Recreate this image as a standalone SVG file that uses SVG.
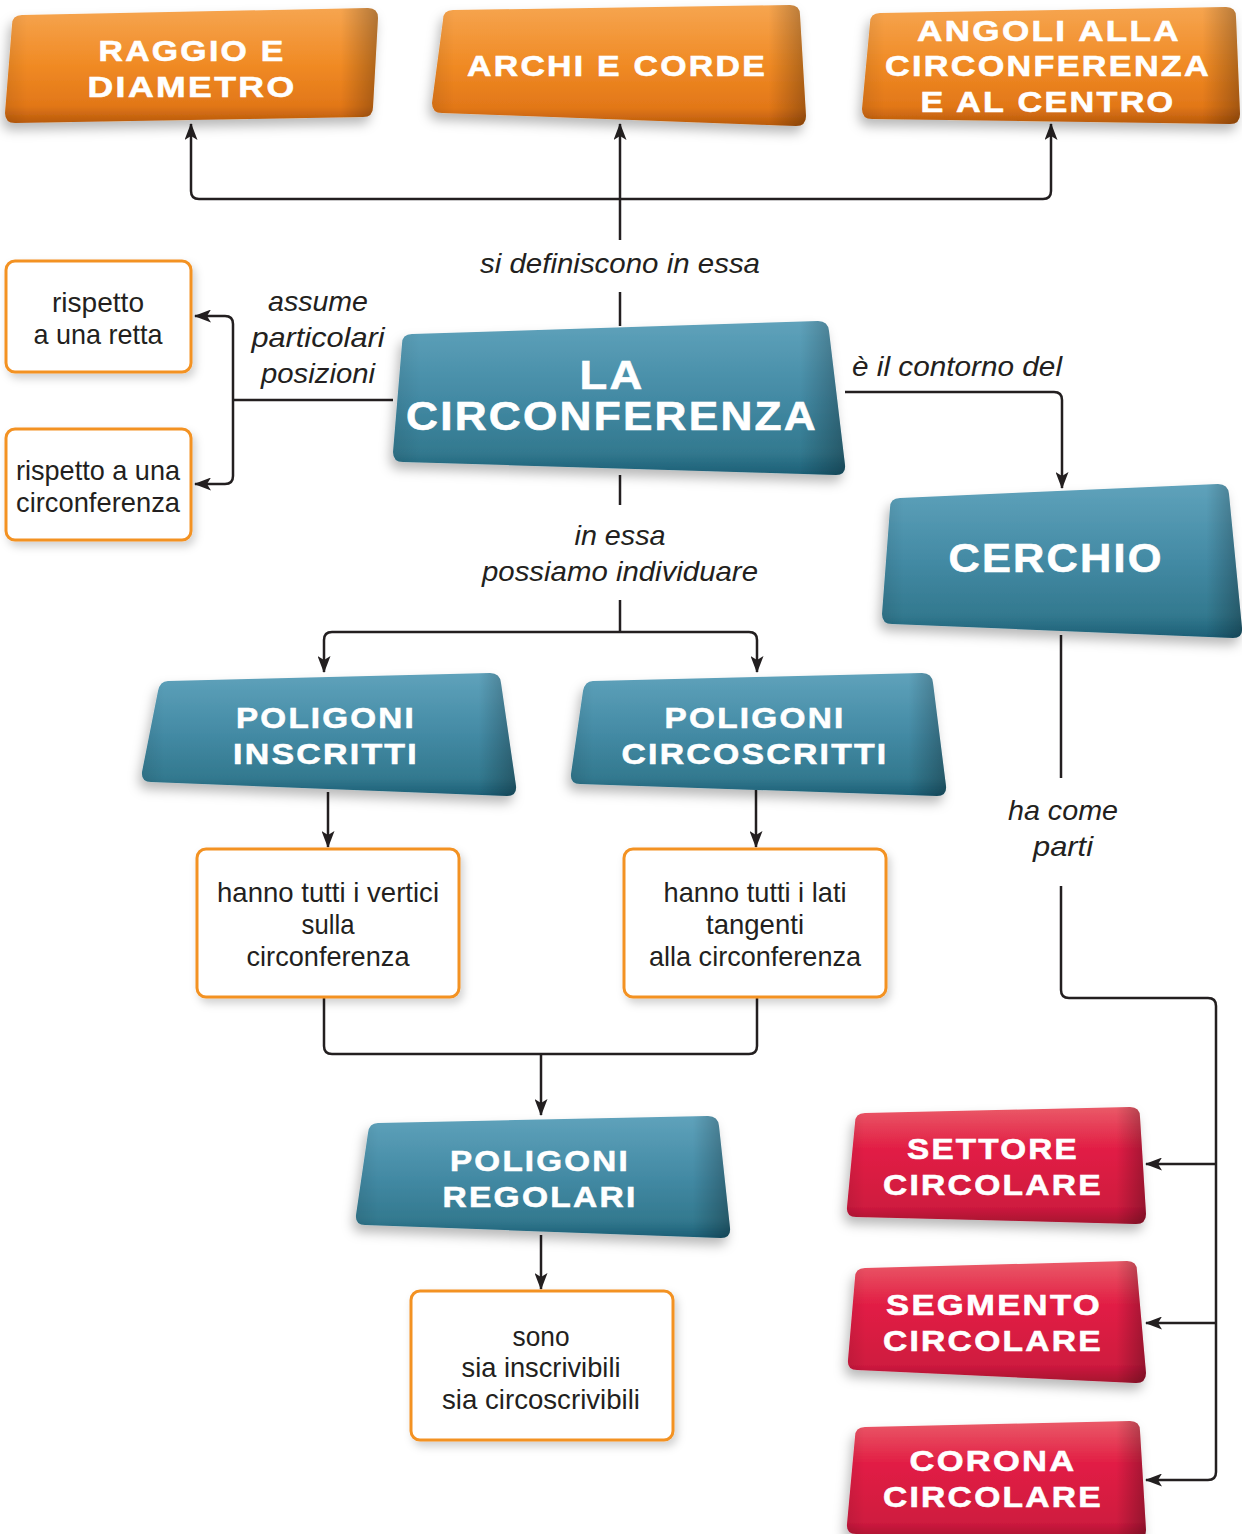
<svg xmlns="http://www.w3.org/2000/svg" width="1242" height="1534" viewBox="0 0 1242 1534">
<defs>
<linearGradient id="gOr" x1="0" y1="0" x2="0" y2="1"><stop offset="0" stop-color="#f6a550"/><stop offset="0.5" stop-color="#f08a24"/><stop offset="0.85" stop-color="#e27718"/><stop offset="1" stop-color="#b85a0c"/></linearGradient>
<linearGradient id="gBl" x1="0" y1="0" x2="0" y2="1"><stop offset="0" stop-color="#5fa2bb"/><stop offset="0.5" stop-color="#438aa4"/><stop offset="0.85" stop-color="#33798f"/><stop offset="1" stop-color="#1c5f76"/></linearGradient>
<linearGradient id="gRd" x1="0" y1="0" x2="0" y2="1"><stop offset="0" stop-color="#ea5a68"/><stop offset="0.35" stop-color="#e21f45"/><stop offset="0.85" stop-color="#cf1a3f"/><stop offset="1" stop-color="#a5122f"/></linearGradient>
<linearGradient id="gEdge" x1="0" y1="0" x2="1" y2="0"><stop offset="0" stop-color="#000" stop-opacity="0.08"/><stop offset="0.06" stop-color="#000" stop-opacity="0"/><stop offset="0.9" stop-color="#000" stop-opacity="0"/><stop offset="1" stop-color="#000" stop-opacity="0.28"/></linearGradient>
<filter id="sh" x="-10%" y="-15%" width="125%" height="140%"><feDropShadow dx="-3" dy="7" stdDeviation="6" flood-color="#000" flood-opacity="0.28"/></filter>
<filter id="shw" x="-10%" y="-10%" width="125%" height="130%"><feDropShadow dx="3" dy="5" stdDeviation="4" flood-color="#000" flood-opacity="0.18"/></filter>
<marker id="ar" markerUnits="userSpaceOnUse" markerWidth="17" markerHeight="13" refX="16" refY="6.5" orient="auto-start-reverse" viewBox="0 0 17 13"><path d="M0,0 L17,6.5 L0,13 L4,6.5 Z" fill="#231f20"/></marker>
<style>
.hd{font-family:"Liberation Sans",Arial,sans-serif;font-weight:bold;fill:#fff;stroke:#fff;stroke-width:0.6;letter-spacing:2px;text-anchor:middle;font-size:30px}
.big{font-size:40px}
.tx{font-family:"Liberation Sans",Arial,sans-serif;fill:#231f20;text-anchor:middle;font-size:28px}
.it{font-family:"Liberation Sans",Arial,sans-serif;font-style:italic;fill:#231f20;text-anchor:middle;font-size:28px}
.wb{fill:#fff;stroke:#f39224;stroke-width:3}
.ln{fill:none;stroke:#231f20;stroke-width:2.5}
.or{fill:url(#gOr)}
.bl{fill:url(#gBl)}
.rd{fill:url(#gRd)}
.ed{fill:url(#gEdge)}
</style>
</defs>
<rect width="1242" height="1534" fill="#fff"/>

<g id="connectors">
<path class="ln" d="M620,240 L620,124" marker-end="url(#ar)"/>
<path class="ln" d="M191,124 L191,191 Q191,199 199,199 L1043,199 Q1051,199 1051,191 L1051,124" marker-start="url(#ar)" marker-end="url(#ar)"/>
<path class="ln" d="M620,292 L620,326"/>
<path class="ln" d="M393,400 L233,400"/>
<path class="ln" d="M195,316 L225,316 Q233,316 233,324 L233,476 Q233,484 225,484 L195,484" marker-start="url(#ar)" marker-end="url(#ar)"/>
<path class="ln" d="M845,392 L1054,392 Q1062,392 1062,400 L1062,488" marker-end="url(#ar)"/>
<path class="ln" d="M620,475 L620,505"/>
<path class="ln" d="M620,600 L620,632"/>
<path class="ln" d="M324,672 L324,640 Q324,632 332,632 L749,632 Q757,632 757,640 L757,672" marker-start="url(#ar)" marker-end="url(#ar)"/>
<path class="ln" d="M328,792 L328,847" marker-end="url(#ar)"/>
<path class="ln" d="M756,790 L756,847" marker-end="url(#ar)"/>
<path class="ln" d="M324,998 L324,1046 Q324,1054 332,1054 L749,1054 Q757,1054 757,1046 L757,998"/>
<path class="ln" d="M541,1054 L541,1115" marker-end="url(#ar)"/>
<path class="ln" d="M541,1235 L541,1289" marker-end="url(#ar)"/>
<path class="ln" d="M1061,635 L1061,778"/>
<path class="ln" d="M1061,886 L1061,990 Q1061,998 1069,998 L1208,998 Q1216,998 1216,1006 L1216,1472 Q1216,1480 1208,1480 L1146,1480" marker-end="url(#ar)"/>
<path class="ln" d="M1216,1164 L1146,1164" marker-end="url(#ar)"/>
<path class="ln" d="M1216,1323 L1146,1323" marker-end="url(#ar)"/>
</g>

<g id="labels">
<text class="it" x="620" y="273" textLength="280" lengthAdjust="spacingAndGlyphs">si definiscono in essa</text>
<text class="it" x="318" y="311" textLength="100" lengthAdjust="spacingAndGlyphs">assume</text>
<text class="it" x="318" y="347" textLength="133" lengthAdjust="spacingAndGlyphs">particolari</text>
<text class="it" x="318" y="383" textLength="114" lengthAdjust="spacingAndGlyphs">posizioni</text>
<text class="it" x="957" y="376" textLength="210" lengthAdjust="spacingAndGlyphs">è il contorno del</text>
<text class="it" x="620" y="545" textLength="91" lengthAdjust="spacingAndGlyphs">in essa</text>
<text class="it" x="620" y="581" textLength="276" lengthAdjust="spacingAndGlyphs">possiamo individuare</text>
<text class="it" x="1063" y="820" textLength="110" lengthAdjust="spacingAndGlyphs">ha come</text>
<text class="it" x="1063" y="856" textLength="60" lengthAdjust="spacingAndGlyphs">parti</text>
</g>

<g id="raggio">
<path class="or" filter="url(#sh)" d="M22,15 L368,8 Q378,8 378,18 L373,107 Q373,117 363,117 L15,123 Q5,123 5,113 L12,25 Q12,15 22,15 Z"/>
<path class="ed" d="M22,15 L368,8 Q378,8 378,18 L373,107 Q373,117 363,117 L15,123 Q5,123 5,113 L12,25 Q12,15 22,15 Z"/>
<text class="hd" x="192" y="61" textLength="187" lengthAdjust="spacingAndGlyphs">RAGGIO E</text>
<text class="hd" x="192" y="97" textLength="209" lengthAdjust="spacingAndGlyphs">DIAMETRO</text>
</g>

<g id="archi">
<path class="or" filter="url(#sh)" d="M453,10 L790,5 Q800,5 800,15 L806,116 Q806,126 796,126 L442,113 Q432,113 432,103 L443,20 Q443,10 453,10 Z"/>
<path class="ed" d="M453,10 L790,5 Q800,5 800,15 L806,116 Q806,126 796,126 L442,113 Q432,113 432,103 L443,20 Q443,10 453,10 Z"/>
<text class="hd" x="617" y="76" textLength="300" lengthAdjust="spacingAndGlyphs">ARCHI E CORDE</text>
</g>

<g id="angoli">
<path class="or" filter="url(#sh)" d="M880,13 L1226,7 Q1236,7 1236,17 L1240,114 Q1240,124 1230,124 L872,119 Q862,119 862,109 L870,23 Q870,13 880,13 Z"/>
<path class="ed" d="M880,13 L1226,7 Q1236,7 1236,17 L1240,114 Q1240,124 1230,124 L872,119 Q862,119 862,109 L870,23 Q870,13 880,13 Z"/>
<text class="hd" x="1049" y="41" textLength="264" lengthAdjust="spacingAndGlyphs">ANGOLI ALLA</text>
<text class="hd" x="1048" y="76" textLength="326" lengthAdjust="spacingAndGlyphs">CIRCONFERENZA</text>
<text class="hd" x="1048" y="112" textLength="255" lengthAdjust="spacingAndGlyphs">E AL CENTRO</text>
</g>

<g id="circonferenza">
<path class="bl" filter="url(#sh)" d="M412,334 L818,321 Q828,321 829,331 L845,465 Q846,475 836,475 L403,462 Q393,462 393,452 L402,344 Q402,334 412,334 Z"/>
<path class="ed" d="M412,334 L818,321 Q828,321 829,331 L845,465 Q846,475 836,475 L403,462 Q393,462 393,452 L402,344 Q402,334 412,334 Z"/>
<text class="hd big" x="612" y="389" textLength="65" lengthAdjust="spacingAndGlyphs">LA</text>
<text class="hd big" x="612" y="430" textLength="412" lengthAdjust="spacingAndGlyphs">CIRCONFERENZA</text>
</g>

<g id="retta">
<rect class="wb" filter="url(#shw)" x="6" y="261" width="185" height="111" rx="9"/>
<text class="tx" x="98" y="312" textLength="92" lengthAdjust="spacingAndGlyphs">rispetto</text>
<text class="tx" x="98" y="344" textLength="129" lengthAdjust="spacingAndGlyphs">a una retta</text>
</g>

<g id="rispcirc">
<rect class="wb" filter="url(#shw)" x="6" y="429" width="185" height="111" rx="9"/>
<text class="tx" x="98" y="480" textLength="164" lengthAdjust="spacingAndGlyphs">rispetto a una</text>
<text class="tx" x="98" y="512" textLength="164" lengthAdjust="spacingAndGlyphs">circonferenza</text>
</g>

<g id="cerchio">
<path class="bl" filter="url(#sh)" d="M900,498 L1218,484 Q1228,484 1229,494 L1242,628 Q1243,638 1233,638 L892,624 Q882,624 882,614 L890,508 Q890,498 900,498 Z"/>
<path class="ed" d="M900,498 L1218,484 Q1228,484 1229,494 L1242,628 Q1243,638 1233,638 L892,624 Q882,624 882,614 L890,508 Q890,498 900,498 Z"/>
<text class="hd big" x="1056" y="572" textLength="215" lengthAdjust="spacingAndGlyphs">CERCHIO</text>
</g>

<g id="inscritti">
<path class="bl" filter="url(#sh)" d="M168,681 L490,673 Q500,673 501,683 L516,786 Q517,796 507,796 L151,782 Q141,782 142,772 L158,691 Q160,681 168,681 Z"/>
<path class="ed" d="M168,681 L490,673 Q500,673 501,683 L516,786 Q517,796 507,796 L151,782 Q141,782 142,772 L158,691 Q160,681 168,681 Z"/>
<text class="hd" x="326" y="728" textLength="180" lengthAdjust="spacingAndGlyphs">POLIGONI</text>
<text class="hd" x="326" y="764" textLength="186" lengthAdjust="spacingAndGlyphs">INSCRITTI</text>
</g>

<g id="circoscritti">
<path class="bl" filter="url(#sh)" d="M593,681 L922,673 Q932,673 933,683 L946,786 Q947,796 937,796 L580,784 Q570,784 571,774 L583,691 Q585,681 593,681 Z"/>
<path class="ed" d="M593,681 L922,673 Q932,673 933,683 L946,786 Q947,796 937,796 L580,784 Q570,784 571,774 L583,691 Q585,681 593,681 Z"/>
<text class="hd" x="755" y="728" textLength="181" lengthAdjust="spacingAndGlyphs">POLIGONI</text>
<text class="hd" x="755" y="764" textLength="267" lengthAdjust="spacingAndGlyphs">CIRCOSCRITTI</text>
</g>

<g id="vertici">
<rect class="wb" filter="url(#shw)" x="197" y="849" width="262" height="148" rx="9"/>
<text class="tx" x="328" y="902" textLength="222" lengthAdjust="spacingAndGlyphs">hanno tutti i vertici</text>
<text class="tx" x="328" y="934" textLength="53" lengthAdjust="spacingAndGlyphs">sulla</text>
<text class="tx" x="328" y="966" textLength="163" lengthAdjust="spacingAndGlyphs">circonferenza</text>
</g>

<g id="lati">
<rect class="wb" filter="url(#shw)" x="624" y="849" width="262" height="148" rx="9"/>
<text class="tx" x="755" y="902" textLength="183" lengthAdjust="spacingAndGlyphs">hanno tutti i lati</text>
<text class="tx" x="755" y="934" textLength="98" lengthAdjust="spacingAndGlyphs">tangenti</text>
<text class="tx" x="755" y="966" textLength="212" lengthAdjust="spacingAndGlyphs">alla circonferenza</text>
</g>

<g id="regolari">
<path class="bl" filter="url(#sh)" d="M378,1123 L708,1116 Q718,1116 719,1126 L730,1228 Q731,1238 721,1238 L365,1225 Q355,1225 356,1215 L368,1133 Q369,1123 378,1123 Z"/>
<path class="ed" d="M378,1123 L708,1116 Q718,1116 719,1126 L730,1228 Q731,1238 721,1238 L365,1225 Q355,1225 356,1215 L368,1133 Q369,1123 378,1123 Z"/>
<text class="hd" x="540" y="1171" textLength="180" lengthAdjust="spacingAndGlyphs">POLIGONI</text>
<text class="hd" x="540" y="1207" textLength="195" lengthAdjust="spacingAndGlyphs">REGOLARI</text>
</g>

<g id="sono">
<rect class="wb" filter="url(#shw)" x="411" y="1291" width="262" height="149" rx="9"/>
<text class="tx" x="541" y="1346" textLength="57" lengthAdjust="spacingAndGlyphs">sono</text>
<text class="tx" x="541" y="1377" textLength="159" lengthAdjust="spacingAndGlyphs">sia inscrivibili</text>
<text class="tx" x="541" y="1409" textLength="198" lengthAdjust="spacingAndGlyphs">sia circoscrivibili</text>
</g>

<g id="settore">
<path class="rd" filter="url(#sh)" d="M865,1113 L1130,1107 Q1140,1107 1140,1117 L1146,1214 Q1146,1224 1136,1224 L856,1217 Q846,1217 847,1207 L855,1123 Q855,1113 865,1113 Z"/>
<path class="ed" d="M865,1113 L1130,1107 Q1140,1107 1140,1117 L1146,1214 Q1146,1224 1136,1224 L856,1217 Q846,1217 847,1207 L855,1123 Q855,1113 865,1113 Z"/>
<text class="hd" x="993" y="1159" textLength="172" lengthAdjust="spacingAndGlyphs">SETTORE</text>
<text class="hd" x="993" y="1195" textLength="220" lengthAdjust="spacingAndGlyphs">CIRCOLARE</text>
</g>

<g id="segmento">
<path class="rd" filter="url(#sh)" d="M865,1268 L1127,1261 Q1137,1261 1137,1271 L1146,1373 Q1146,1383 1136,1383 L857,1370 Q847,1370 848,1360 L855,1278 Q855,1268 865,1268 Z"/>
<path class="ed" d="M865,1268 L1127,1261 Q1137,1261 1137,1271 L1146,1373 Q1146,1383 1136,1383 L857,1370 Q847,1370 848,1360 L855,1278 Q855,1268 865,1268 Z"/>
<text class="hd" x="994" y="1315" textLength="216" lengthAdjust="spacingAndGlyphs">SEGMENTO</text>
<text class="hd" x="993" y="1351" textLength="220" lengthAdjust="spacingAndGlyphs">CIRCOLARE</text>
</g>

<g id="corona">
<path class="rd" filter="url(#sh)" d="M865,1427 L1130,1421 Q1140,1421 1140,1431 L1146,1530 Q1146,1540 1136,1540 L856,1534 Q846,1534 847,1524 L855,1437 Q855,1427 865,1427 Z"/>
<path class="ed" d="M865,1427 L1130,1421 Q1140,1421 1140,1431 L1146,1530 Q1146,1540 1136,1540 L856,1534 Q846,1534 847,1524 L855,1437 Q855,1427 865,1427 Z"/>
<text class="hd" x="993" y="1471" textLength="167" lengthAdjust="spacingAndGlyphs">CORONA</text>
<text class="hd" x="993" y="1507" textLength="220" lengthAdjust="spacingAndGlyphs">CIRCOLARE</text>
</g>
</svg>
